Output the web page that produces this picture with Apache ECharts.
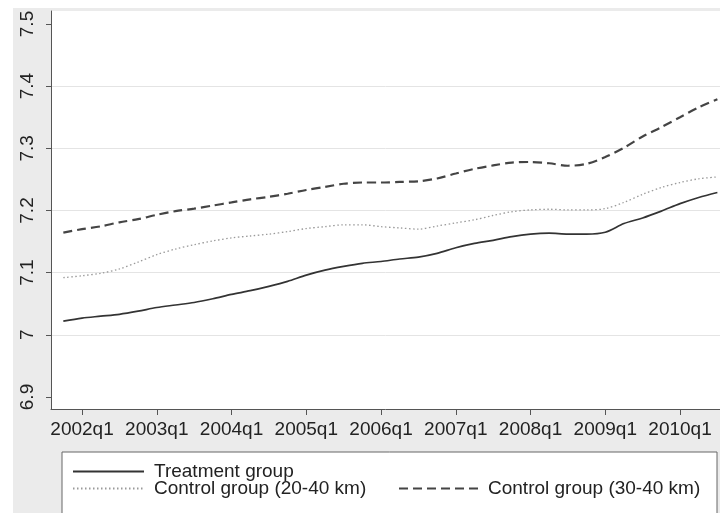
<!DOCTYPE html>
<html><head><meta charset="utf-8">
<script src="https://cdn.jsdelivr.net/npm/echarts@6/dist/echarts.min.js"></script>
<style>html,body{margin:0;padding:0;background:#fff}#c{width:720px;height:513px}</style>
</head><body><div id="c"></div>
<script>
const quarters = ['2001q4',
  '2002q1','2002q2','2002q3','2002q4','2003q1','2003q2','2003q3','2003q4',
  '2004q1','2004q2','2004q3','2004q4','2005q1','2005q2','2005q3','2005q4',
  '2006q1','2006q2','2006q3','2006q4','2007q1','2007q2','2007q3','2007q4',
  '2008q1','2008q2','2008q3','2008q4','2009q1','2009q2','2009q3','2009q4',
  '2010q1','2010q2','2010q3'];
const treatment = [7.022,7.027,7.030,7.033,7.038,7.044,7.048,7.052,7.058,7.065,7.071,7.078,
  7.086,7.096,7.104,7.110,7.115,7.118,7.122,7.125,7.131,7.140,7.147,7.152,7.158,7.162,7.1635,
  7.162,7.162,7.165,7.179,7.188,7.199,7.211,7.221,7.229];
const control2040 = [7.092,7.095,7.099,7.106,7.117,7.129,7.138,7.145,7.151,7.156,7.159,7.162,
  7.166,7.171,7.174,7.177,7.177,7.174,7.172,7.170,7.175,7.180,7.185,7.192,7.198,7.201,7.202,
  7.201,7.201,7.203,7.213,7.226,7.237,7.245,7.251,7.254];
const control3040 = [7.1645,7.170,7.1745,7.181,7.186,7.193,7.199,7.203,7.208,7.213,7.218,7.222,
  7.227,7.233,7.238,7.243,7.245,7.245,7.246,7.247,7.2515,7.2595,7.267,7.2725,7.277,7.278,7.276,
  7.272,7.275,7.286,7.301,7.319,7.334,7.350,7.366,7.379];
const xTickLabels = ['2002q1','2003q1','2004q1','2005q1','2006q1','2007q1','2008q1','2009q1','2010q1'];
const yTicks = [6.9,7,7.1,7.2,7.3,7.4,7.5];
const yGridLines = [7,7.1,7.2,7.3,7.4];
const seriesNames = ['Treatment group','Control group (20-40 km)','Control group (30-40 km)'];

function qIndex(s){ const y=+s.slice(0,4), q=+s.slice(5); return (y-2002)*4+(q-1); }
const qLabel = {}; xTickLabels.forEach(s=>{ qLabel[qIndex(s)] = s; });
const pairs = arr => arr.map((v,i)=>[qIndex(quarters[i]), v]);

const FONT = '"Liberation Sans", Arial, Helvetica, sans-serif';
const chart = echarts.init(document.getElementById('c'), null, {renderer:'canvas'});
const axisCol = '#555';
const legendText = {fontSize:19, fontFamily:FONT, color:'#222', lineHeight:19, padding:[0,0,0,5]};
const legendBase = {padding:0, itemHeight:2, itemStyle:{color:'rgba(0,0,0,0)', borderWidth:0, opacity:0}, textStyle:legendText};
chart.setOption({
  animation:false,
  backgroundColor:'#fff',
  graphic:[
    {type:'rect', z:-10, shape:{x:13,y:8,width:707,height:505}, style:{fill:'#ebebeb'}},
    {type:'rect', z:-5, shape:{x:62,y:452,width:655,height:80}, style:{fill:'#fff', stroke:'#666', lineWidth:1}}
  ],
  grid:{left:51, right:0, top:11, bottom:104, show:true, backgroundColor:'#fff', borderWidth:0, containLabel:false},
  xAxis:{
    type:'value', min:-1.66, max:34.14,
    axisLine:{show:true, onZero:false, lineStyle:{color:axisCol, width:1}},
    axisTick:{show:true, length:6, lineStyle:{color:axisCol}, customValues:xTickLabels.map(qIndex)},
    axisLabel:{customValues:xTickLabels.map(qIndex), formatter:v=>qLabel[Math.round(v)]||'', fontSize:19, fontFamily:FONT, color:'#222', margin:11},
    splitLine:{show:false}
  },
  yAxis:[{
    type:'value', min:6.8807, max:7.5209,
    axisLine:{show:true, onZero:false, lineStyle:{color:axisCol, width:1}},
    axisTick:{show:true, length:5, lineStyle:{color:axisCol}, customValues:yTicks},
    axisLabel:{customValues:yTicks, rotate:90, fontSize:19, fontFamily:FONT, color:'#222', margin:14,
      formatter:v=>String(+v.toFixed(1))},
    splitLine:{show:false}
  },{
    type:'value', min:6.8807, max:7.5209, position:'left',
    axisLine:{show:false, onZero:false}, axisLabel:{show:false},
    axisTick:{show:false, customValues:yGridLines},
    splitLine:{show:true, lineStyle:{color:'#e4e4e4', width:1}}
  }],
  legend:[
    Object.assign({data:[seriesNames[0]], left:72, top:462, itemWidth:71}, legendBase),
    Object.assign({data:[seriesNames[1]], left:72, top:479, itemWidth:71}, legendBase),
    Object.assign({data:[seriesNames[2]], left:398, top:479, itemWidth:79}, legendBase)
  ],
  series:[
    {name:seriesNames[0], type:'line', data:pairs(treatment), smooth:0.3, symbol:'none',
      lineStyle:{color:'#333', width:1.7, type:'solid'}, itemStyle:{color:'#333'}},
    {name:seriesNames[1], type:'line', data:pairs(control2040), smooth:0.3, symbol:'none',
      lineStyle:{color:'#9a9a9a', width:1.3, type:[1.5,2.5]}, itemStyle:{color:'#9a9a9a'}},
    {name:seriesNames[2], type:'line', data:pairs(control3040), smooth:0.3, symbol:'none',
      lineStyle:{color:'#444', width:2.2, type:[9,5]}, itemStyle:{color:'#444'}}
  ]
});
</script></body></html>
